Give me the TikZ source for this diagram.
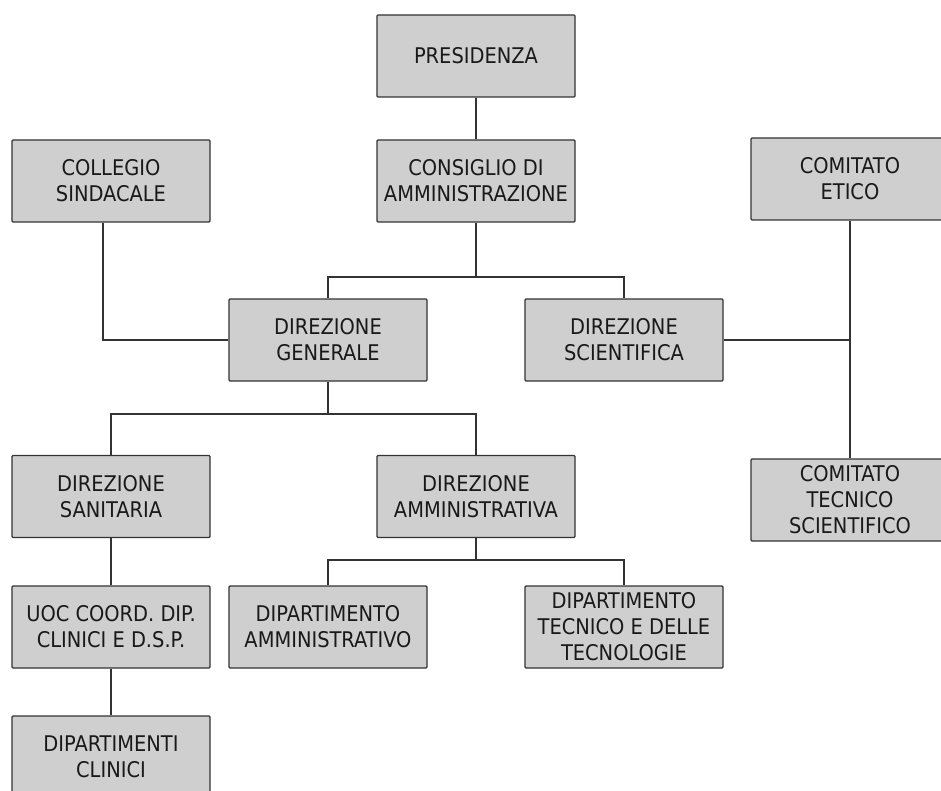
\documentclass[tikz,border=0pt]{standalone}
\usepackage{fontspec}
\setmainfont{DejaVu Sans Condensed}
\usetikzlibrary{positioning,calc}

\begin{document}
\begin{tikzpicture}[x=1pt,y=-1pt,
		ufficio/.style={draw=black!80, fill=black!19, line width=1.2pt, rounded corners=1pt,
			minimum width=198pt, minimum height=82pt, inner sep=0pt, align=center,
			font=\fontsize{21.6}{26}\selectfont, text=black!90},
		linea/.style={line width=1.2pt, draw=black!80}]
	\useasboundingbox (0,0) rectangle (941,791);
	\clip (0,0) rectangle (941,791);
	% vertice
	\node [ufficio] (pres) at (476,56) {PRESIDENZA};
	\node [ufficio] (cda) at (476,181) {CONSIGLIO DI\\AMMINISTRAZIONE};
	\node [ufficio] (coll) at (111,181) {COLLEGIO\\SINDACALE};
	\node [ufficio] (etico) at (850,179) {COMITATO\\ETICO};
	% direzioni
	\node [ufficio] (dg) at (328,340) {DIREZIONE\\GENERALE};
	\node [ufficio] (dsc) at (624,340) {DIREZIONE\\SCIENTIFICA};
	\node [ufficio] (cts) at (850,500) {COMITATO\\TECNICO\\SCIENTIFICO};
	\node [ufficio] (dsan) at (111,496.5) {DIREZIONE\\SANITARIA};
	\node [ufficio] (dam) at (476,496.5) {DIREZIONE\\AMMINISTRATIVA};
	% dipartimenti
	\node [ufficio] (uoc) at (111,627) {UOC COORD. DIP.\\CLINICI E D.S.P.};
	\node [ufficio] (dipamm) at (328,627) {DIPARTIMENTO\\AMMINISTRATIVO};
	\node [ufficio] (diptec) at (624,627) {DIPARTIMENTO\\TECNICO E DELLE\\TECNOLOGIE};
	\node [ufficio] (dipcl) at (111,757) {DIPARTIMENTI\\CLINICI};
	% collegamenti
	\coordinate (b1) at (476,277);
	\coordinate (b2) at (328,414);
	\coordinate (b3) at (476,560);
	\draw [linea] (pres) -- (cda);
	\draw [linea] (cda) -- (b1);
	\draw [linea] (dg.north) |- (b1) -| (dsc.north);
	\draw [linea] ([xshift=-8pt]coll.south) |- (dg.west);
	\draw [linea] (etico) -- (cts);
	\draw [linea] (dsc.east) -- (dsc.east -| etico.south);
	\draw [linea] (dg) -- (b2);
	\draw [linea] (dsan.north) |- (b2) -| (dam.north);
	\draw [linea] (dsan) -- (uoc);
	\draw [linea] (uoc) -- (dipcl);
	\draw [linea] (dam) -- (b3);
	\draw [linea] (dipamm.north) |- (b3) -| (diptec.north);
\end{tikzpicture}
\end{document}
